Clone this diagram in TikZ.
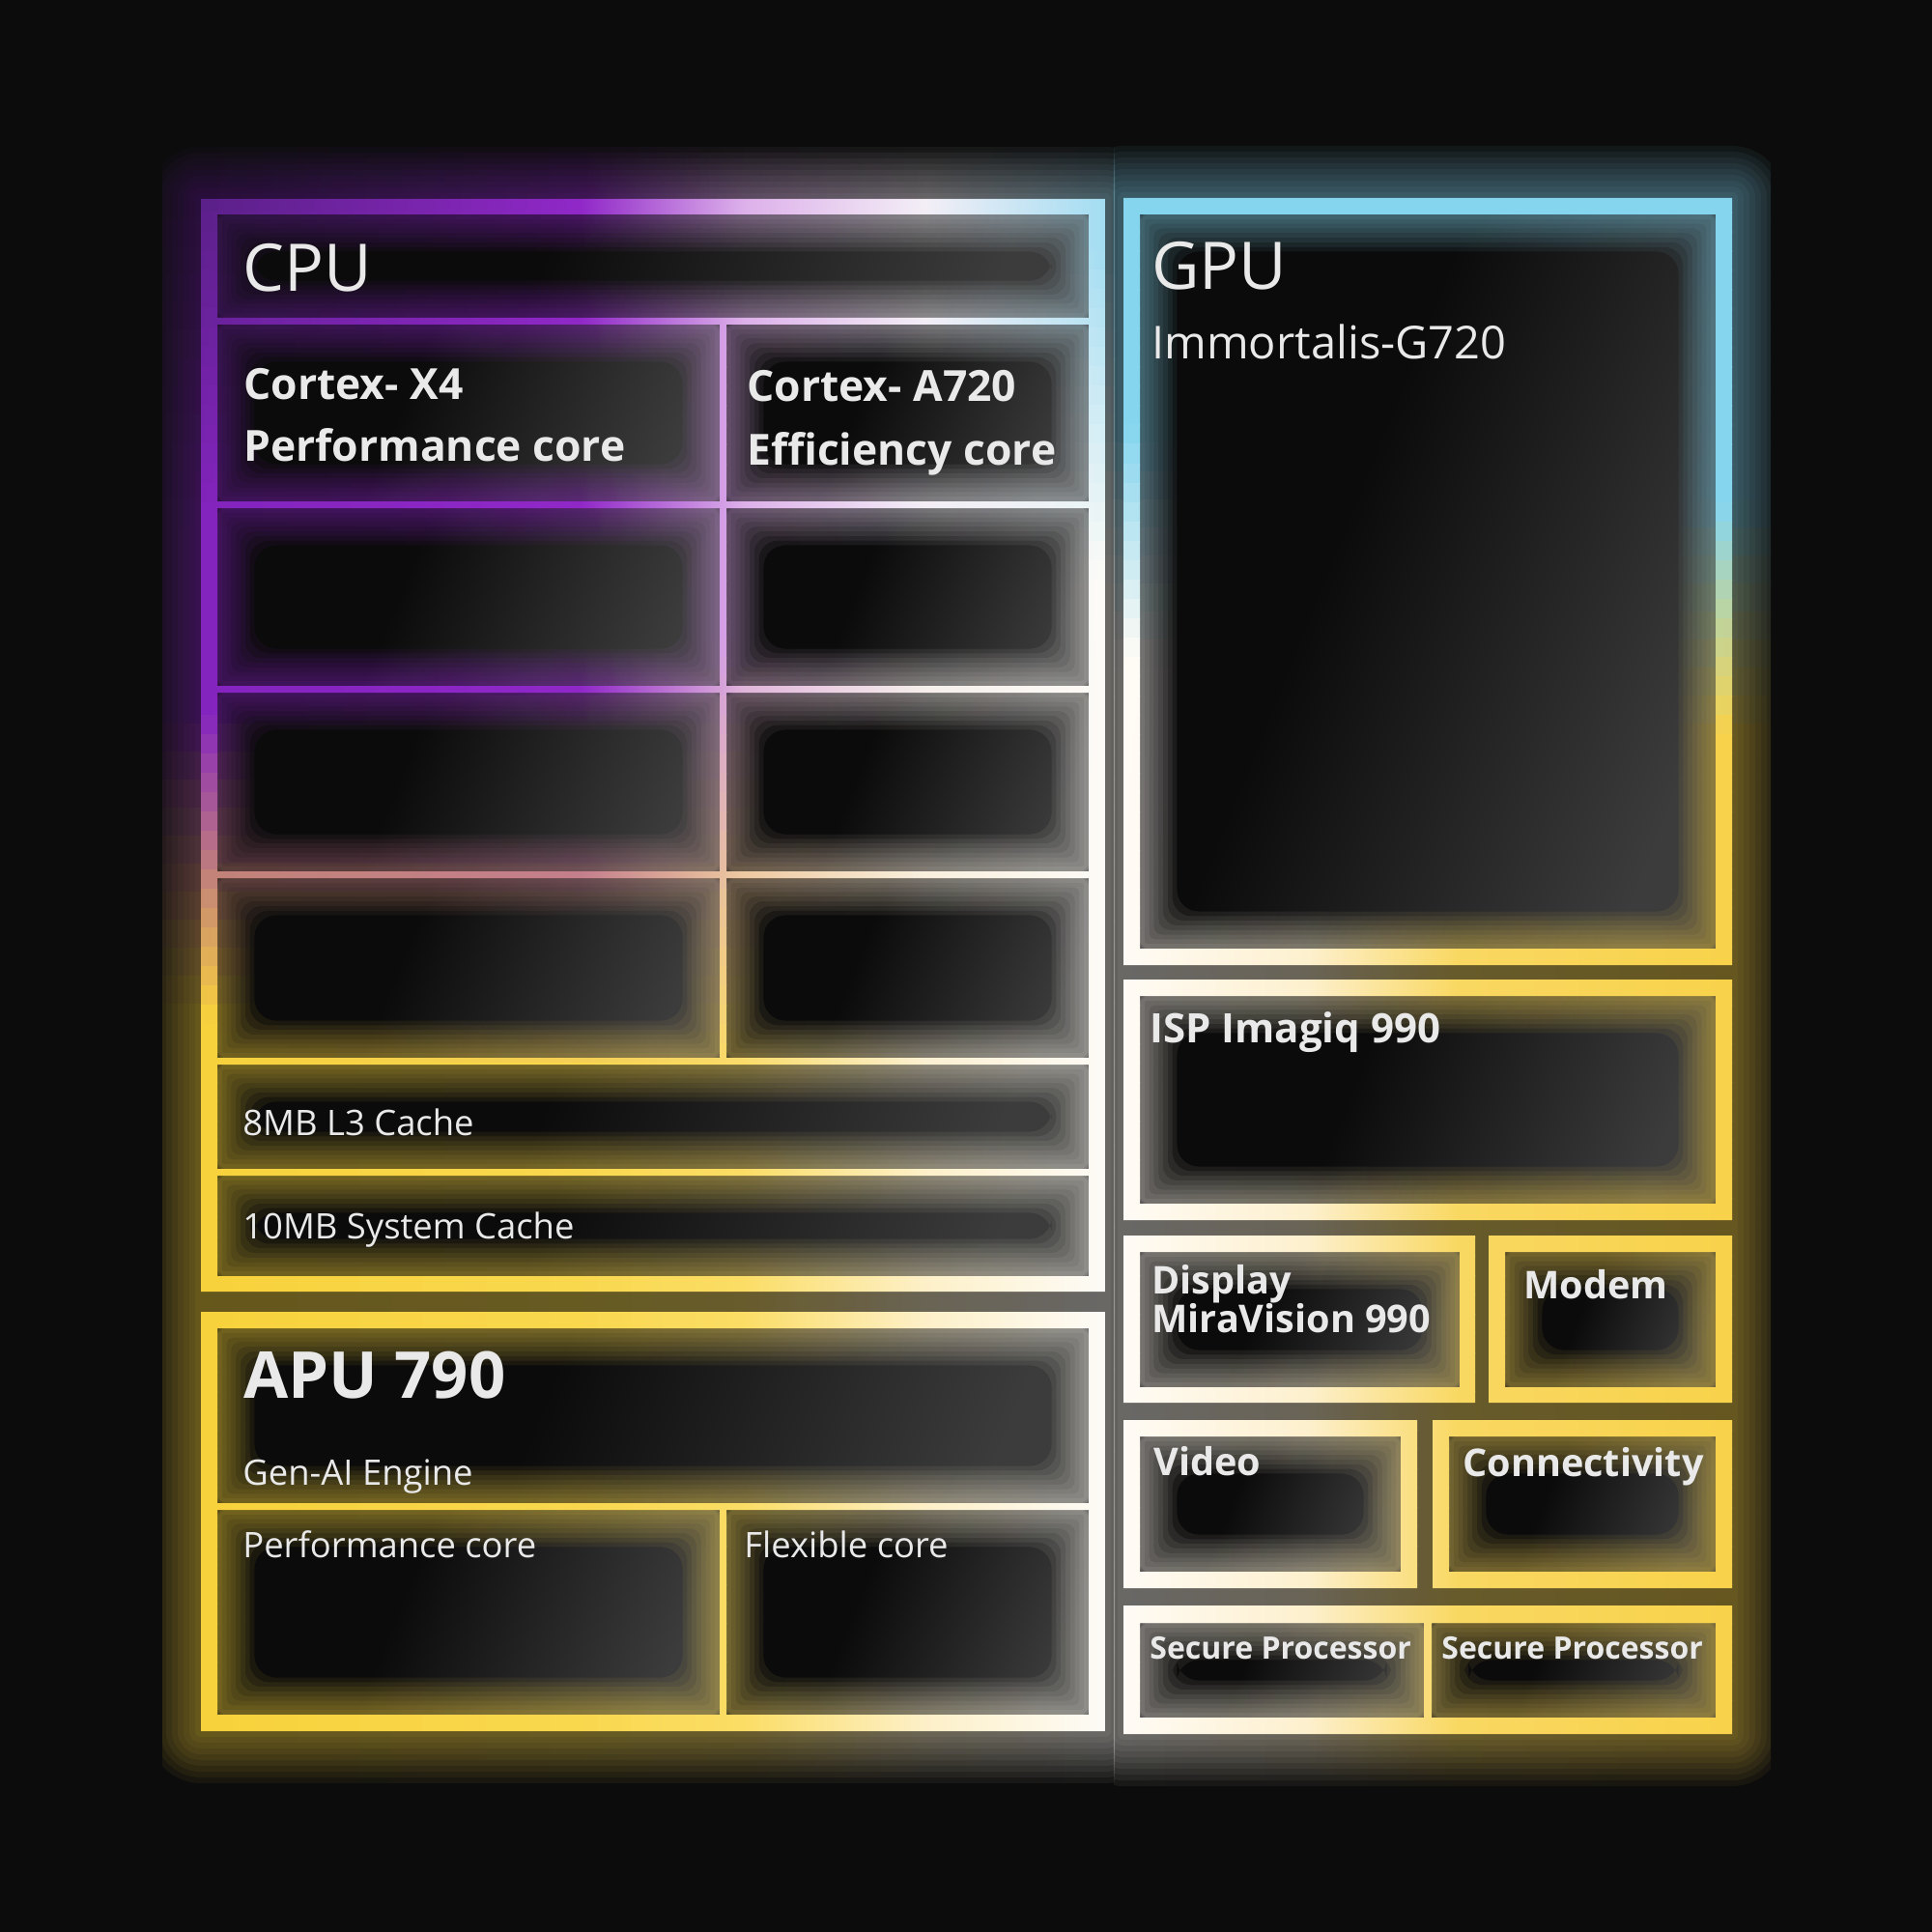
\documentclass[tikz,border=0pt]{standalone}
\usepackage{fontspec}
\setmainfont{Open Sans}
\definecolor{bgc}{HTML}{0C0C0C}
\definecolor{txtc}{HTML}{E9E9E9}
\definecolor{cellD}{HTML}{0B0B0B}
\definecolor{cellL}{HTML}{3C3C3C}
% left column palette
\definecolor{LdarkP}{HTML}{5A2088}
\definecolor{Lpurp}{HTML}{8424BF}
\definecolor{Lyel}{HTML}{F8D23C}
\definecolor{Lpurp2}{HTML}{9028C8}
\definecolor{LyelB}{HTML}{F9D84E}
\definecolor{Llilac}{HTML}{DDB0EA}
\definecolor{LyelC}{HTML}{FBDD66}
\definecolor{Lwhite1}{HTML}{F3EEF6}
\definecolor{LpaleD}{HTML}{FDF0C8}
\definecolor{Lblue}{HTML}{A3DDF2}
\definecolor{Lwhite2}{HTML}{FDFBF7}
% right column palette
\definecolor{Rblue}{HTML}{86D5EF}
\definecolor{Rwhite}{HTML}{FFFBF5}
\definecolor{Rpale}{HTML}{FDF0CE}
\definecolor{Ryel1}{HTML}{F9D862}
\definecolor{Ryel2}{HTML}{F8D24A}
\colorlet{cA}{black}\colorlet{cB}{black}\colorlet{cC}{black}\colorlet{cD}{black}\colorlet{cE}{black}
\colorlet{tmpA}{black}
\pgfdeclarehorizontalshading[cA,cB,cC,cD,cE]{lband}{100bp}{color(0bp)=(cA); color(26.97bp)=(cA); color(46.31bp)=(cB); color(54.61bp)=(cC); color(63.82bp)=(cD); color(73.03bp)=(cE); color(100bp)=(cE)}
\pgfdeclarehorizontalshading[cA,cB,cC,cD]{rband}{100bp}{color(0bp)=(cA); color(27.82bp)=(cA); color(41.13bp)=(cB); color(52.22bp)=(cC); color(72.18bp)=(cD); color(100bp)=(cD)}
\pgfdeclarehorizontalshading{cellsh}{100bp}{color(0bp)=(cellD); color(25bp)=(cellD); color(42bp)=(cellD); color(75bp)=(cellL); color(100bp)=(cellL)}
\newcommand\wt[4]{\pgfmathsetmacro#1{100*min(1,max(0,(#4-#2)/(#4-#3)))}}
\newcommand\lcolors[1]{%
 \wt\wgA{#1}{0}{0.3}\colorlet{tmpA}{LdarkP!\wgA!Lpurp}%
 \wt\wgB{#1}{0.47}{0.75}\colorlet{cA}{tmpA!\wgB!Lyel}%
 \wt\wgC{#1}{0.45}{0.8}\colorlet{cB}{Lpurp2!\wgC!LyelB}%
 \wt\wgD{#1}{0.4}{0.8}\colorlet{cC}{Llilac!\wgD!LyelC}%
 \wt\wgE{#1}{0.3}{0.9}\colorlet{cD}{Lwhite1!\wgE!LpaleD}%
 \wt\wgF{#1}{0.05}{0.35}\colorlet{cE}{Lblue!\wgF!Lwhite2}}
\newcommand\rcolors[1]{%
 \wt\wgA{#1}{0.3}{0.6}\colorlet{cA}{Rblue!\wgA!Rwhite}%
 \wt\wgB{#1}{0.6}{1}\colorlet{tmpA}{Rwhite!\wgB!Rpale}%
 \wt\wgC{#1}{0.35}{0.6}\colorlet{cB}{Rblue!\wgC!tmpA}%
 \wt\wgD{#1}{0.4}{0.72}\colorlet{cC}{Rblue!\wgD!Ryel1}%
 \wt\wgE{#1}{0.4}{0.7}\colorlet{cD}{Rblue!\wgE!Ryel2}}
% #1 = last band index, #2 = band height (px)
\newcommand\leftfield[2]{%
 \foreach \i in {0,...,#1}{%
  \pgfmathsetmacro\ya{140+\i*#2}%
  \pgfmathsetmacro\tv{(\ya+#2/2-206)/1131}%
  \lcolors{\tv}%
  \shade[shading=lband] (168,\ya) rectangle (1184,\ya+#2+0.8);}}
\newcommand\rightfield[2]{%
 \foreach \i in {0,...,#1}{%
  \pgfmathsetmacro\ya{140+\i*#2}%
  \pgfmathsetmacro\tv{(\ya+#2/2-205)/794}%
  \rcolors{\tv}%
  \shade[shading=rband] (1123,\ya) rectangle (1833,\ya+#2+0.8);}}
\newcommand\rectseg[4]{(#1,#2) rectangle (#3,#4)}
\newcommand\ringseg[5]{(#2-3.5,#3-3.5) rectangle (#4+3.5,#5+3.5) (#2+#1,#3+#1) rectangle (#4-#1,#5-#1)}
\newcommand\cellfill[4]{\shade[shading=cellsh, shading angle=-22] (#1,#2) rectangle (#3,#4);}
\newcommand\leftcells[1]{%
 #1{225}{222}{1127}{329}
 #1{225}{336}{745}{519} #1{752}{336}{1127}{519}
 #1{225}{526}{745}{710} #1{752}{526}{1127}{710}
 #1{225}{717}{745}{902} #1{752}{717}{1127}{902}
 #1{225}{909}{745}{1095} #1{752}{909}{1127}{1095}
 #1{225}{1102}{1127}{1210}
 #1{225}{1217}{1127}{1321}
 #1{225}{1375}{1127}{1556}
 #1{225}{1563}{745}{1775} #1{752}{1563}{1127}{1775}}
\newcommand\rightcells[1]{%
 #1{1180}{222}{1776}{982}
 #1{1180}{1031}{1776}{1246}
 #1{1180}{1296}{1511}{1436}
 #1{1558}{1296}{1776}{1436}
 #1{1180}{1487}{1450}{1627}
 #1{1500}{1487}{1776}{1627}
 #1{1180}{1680}{1474}{1778}
 #1{1482}{1680}{1776}{1778}}
\newcommand\leftouter{(208,206) rectangle (1144,1337) (208,1358) rectangle (1144,1792)}
\newcommand\rightouter{(1163,205) rectangle (1793,999) (1163,1014) rectangle (1793,1263)
 (1163,1279) rectangle (1527,1452) (1541,1279) rectangle (1793,1452)
 (1163,1470) rectangle (1467,1644) (1483,1470) rectangle (1793,1644)
 (1163,1662) rectangle (1793,1795)}
\tikzset{
 lbl/.style={anchor=base west, inner sep=0pt, text=txtc},
 fbig/.style={font=\fontsize{34}{40}\selectfont},
 fsub/.style={font=\fontsize{23.5}{28}\selectfont},
 fcore/.style={font=\bfseries\fontsize{22.2}{26}\selectfont},
 freg/.style={font=\fontsize{18.2}{22}\selectfont},
 fblk/.style={font=\bfseries\fontsize{19.8}{22}\selectfont},
 fsec/.style={font=\bfseries\fontsize{16}{18}\selectfont}
}
\begin{document}
\begin{tikzpicture}[x=0.5pt,y=-0.5pt]
\useasboundingbox (0,0) rectangle (2000,2000);
\fill[bgc] (0,0) rectangle (2000,2000);
% outer halos (soft, several thin steps), each column kept to its side of the gap
\foreach \j in {1,...,9}{%
 \pgfmathsetmacro\hd{6*\j}\pgfmathsetmacro\hr{3*\j}%
 \begin{scope}[transparency group, opacity=0.055]
  \path[clip] (0,0) rectangle (1154.2,2000);
  \path[clip, rounded corners=\hr pt] (208-\hd,206-\hd) rectangle (1144+\hd,1792+\hd);
  \leftfield{59}{29}
 \end{scope}
 \begin{scope}[transparency group, opacity=0.055]
  \path[clip] (1152.8,0) rectangle (2000,2000);
  \path[clip, rounded corners=\hr pt] (1163-\hd,205-\hd) rectangle (1793+\hd,1795+\hd);
  \rightfield{59}{29}
 \end{scope}}
% dark cells
\leftcells{\cellfill}
\rightcells{\cellfill}
% inner glow (soft, several thin steps)
\foreach \j in {1,...,8}{%
 \pgfmathsetmacro\gd{4.8*\j}\pgfmathsetmacro\gr{1.4*\j}%
 \begin{scope}[transparency group, opacity=0.072, even odd rule]
  \path[clip, rounded corners=\gr pt] \leftcells{\ringseg{\gd}};
  \leftfield{59}{29}
 \end{scope}
 \begin{scope}[transparency group, opacity=0.072, even odd rule]
  \path[clip, rounded corners=\gr pt] \rightcells{\ringseg{\gd}};
  \rightfield{59}{29}
 \end{scope}}
% frames
\begin{scope}[even odd rule]
 \path[clip] \leftouter \leftcells{\rectseg};
 \leftfield{85}{20}
\end{scope}
\begin{scope}[even odd rule]
 \path[clip] \rightouter \rightcells{\rectseg};
 \rightfield{85}{20}
\end{scope}
% texts
\node[lbl, fbig] (cpu) at (251,302) {CPU};
\node[lbl, fbig] (gpu) at (1192,300) {GPU};
\node[lbl, fsub] (imm) at (1192,372) {Immortalis-G720};
\node[lbl, fcore] (x4a) at (252,414) {Cortex- X4};
\node[lbl, fcore] (x4b) at (252,478) {Performance core};
\node[lbl, fcore] (a7a) at (773,416) {Cortex- A720};
\node[lbl, fcore] (a7b) at (773,481) {Efficiency core};
\node[lbl, freg] (l3) at (251,1175) {8MB L3 Cache};
\node[lbl, freg] (sc) at (251,1282) {10MB System Cache};
\node[lbl, font=\bfseries\fontsize{33.5}{40}\selectfont] (apu) at (252,1447) {APU 790};
\node[lbl, freg] (gen) at (251,1537) {Gen-AI Engine};
\node[lbl, freg] (pc) at (251,1612) {Performance core};
\node[lbl, freg] (fc) at (770,1612) {Flexible core};
\node[lbl, font=\bfseries\fontsize{21}{24}\selectfont] (isp) at (1190,1079) {ISP Imagiq 990};
\node[lbl, fblk] (dsp1) at (1192,1339) {Display};
\node[lbl, fblk] (dsp2) at (1192,1379) {MiraVision 990};
\node[lbl, fblk] (mdm) at (1577,1344) {Modem};
\node[lbl, fblk] (vid) at (1194,1527) {Video};
\node[lbl, fblk] (con) at (1514,1528) {Connectivity};
\node[lbl, fsec] (sp1) at (1190,1717) {Secure Processor};
\node[lbl, fsec] (sp2) at (1492,1717) {Secure Processor};
\end{tikzpicture}
\end{document}
